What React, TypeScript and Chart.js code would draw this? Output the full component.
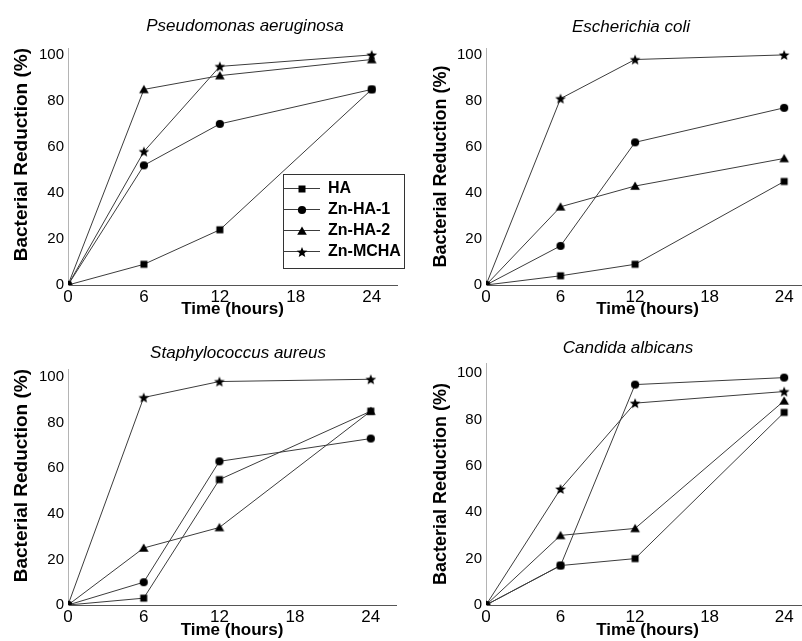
import React, { useEffect, useRef } from 'react';
import { Chart, registerables } from 'chart.js';

Chart.register(...registerables);

const FONT = '"Liberation Sans", Arial, Helvetica, sans-serif';

// ---------- data ----------
const timeHours = [0, 6, 12, 24];
const xTickValues = [0, 6, 12, 18, 24];
const yTickValues = [0, 20, 40, 60, 80, 100];
const seriesNames = ['HA', 'Zn-HA-1', 'Zn-HA-2', 'Zn-MCHA'];
const markerShapes = ['square', 'circle', 'triangle', 'star'];
const panelTitles = ['Pseudomonas aeruginosa', 'Escherichia coli', 'Staphylococcus aureus', 'Candida albicans'];
const xAxisTitle = 'Time (hours)';
const yAxisTitle = 'Bacterial Reduction (%)';

// Pseudomonas aeruginosa
const paHA = [0, 9, 24, 85];
const paZnHA1 = [0, 52, 70, 85];
const paZnHA2 = [0, 85, 91, 98];
const paZnMCHA = [0, 58, 95, 100];

// Escherichia coli
const ecHA = [0, 4, 9, 45];
const ecZnHA1 = [0, 17, 62, 77];
const ecZnHA2 = [0, 34, 43, 55];
const ecZnMCHA = [0, 81, 98, 100];

// Staphylococcus aureus
const saHA = [0, 3, 55, 85];
const saZnHA1 = [0, 10, 63, 73];
const saZnHA2 = [0, 25, 34, 85];
const saZnMCHA = [0, 91, 98, 99];

// Candida albicans
const caHA = [0, 17, 20, 83];
const caZnHA1 = [0, 17, 95, 98];
const caZnHA2 = [0, 30, 33, 88];
const caZnMCHA = [0, 50, 87, 92];

const panelSeries = [
  [paHA, paZnHA1, paZnHA2, paZnMCHA],
  [ecHA, ecZnHA1, ecZnHA2, ecZnMCHA],
  [saHA, saZnHA1, saZnHA2, saZnMCHA],
  [caHA, caZnHA1, caZnHA2, caZnMCHA],
];

// ---------- layout (styles / positions) ----------
type PanelLayout = {
  left: number; top: number; w: number; h: number;
  chartLeft: number; chartRight: number; chartTop: number; chartBottom: number;
  yMax: number; yTitleAlign: 'start' | 'center' | 'end'; yTitleSize: number; yTitleX: number;
  titleX: number; titleBaseline: number; legend: boolean;
};

const layouts: PanelLayout[] = [
  { left: 0, top: 0, w: 406, h: 320, chartLeft: 68, chartRight: 397, chartTop: 48, chartBottom: 285, yMax: 103,
    yTitleAlign: 'end', yTitleSize: 19, yTitleX: 21.7, titleX: 245, titleBaseline: 30.7, legend: true },
  { left: 401, top: 0, w: 413, h: 320, chartLeft: 85, chartRight: 413, chartTop: 48, chartBottom: 285, yMax: 103,
    yTitleAlign: 'center', yTitleSize: 18, yTitleX: 40, titleX: 230, titleBaseline: 31.7, legend: false },
  { left: 0, top: 320, w: 401, h: 321, chartLeft: 68, chartRight: 397, chartTop: 49, chartBottom: 285, yMax: 103.5,
    yTitleAlign: 'end', yTitleSize: 19, yTitleX: 21.7, titleX: 238, titleBaseline: 38.3, legend: false },
  { left: 401, top: 320, w: 413, h: 321, chartLeft: 85, chartRight: 413, chartTop: 43, chartBottom: 285, yMax: 104.3,
    yTitleAlign: 'center', yTitleSize: 18, yTitleX: 40, titleX: 227, titleBaseline: 33.3, legend: false },
];

const LINE_COLOR = '#3c3c3c';

function makeMarker(shape: string): HTMLCanvasElement {
  const size = 14;
  const c = document.createElement('canvas');
  c.width = size;
  c.height = size;
  const g = c.getContext('2d')!;
  g.fillStyle = '#000';
  const m = size / 2;
  g.beginPath();
  if (shape === 'square') {
    g.rect(m - 3.5, m - 3.5, 7, 7);
  } else if (shape === 'circle') {
    g.arc(m, m, 4.1, 0, Math.PI * 2);
  } else if (shape === 'triangle') {
    g.moveTo(m, m - 4.5);
    g.lineTo(m + 4.8, m + 3.8);
    g.lineTo(m - 4.8, m + 3.8);
    g.closePath();
  } else {
    for (let i = 0; i < 10; i++) {
      const r = i % 2 ? 2.4 : 5.6;
      const a = -Math.PI / 2 + (i * Math.PI) / 5;
      const px = m + r * Math.cos(a);
      const py = m + 0.5 + r * Math.sin(a);
      if (i === 0) g.moveTo(px, py); else g.lineTo(px, py);
    }
    g.closePath();
  }
  g.fill();
  return c;
}

function Panel({ index }: { index: number }) {
  const ref = useRef<HTMLCanvasElement | null>(null);
  const L = layouts[index];

  useEffect(() => {
    if (!ref.current) return;
    const markers = markerShapes.map(makeMarker);
    const series = panelSeries[index];

    const titlePlugin = {
      id: 'panelTitle',
      afterDraw(chart: any) {
        const ctx = chart.ctx;
        ctx.save();
        ctx.font = `italic 17px ${FONT}`;
        ctx.fillStyle = '#000';
        ctx.textAlign = 'center';
        ctx.textBaseline = 'alphabetic';
        ctx.fillText(panelTitles[index], L.titleX, L.titleBaseline);
        ctx.restore();
      },
    };

    const legendPlugin = {
      id: 'panelLegend',
      afterDraw(chart: any) {
        if (!L.legend) return;
        const ctx = chart.ctx;
        const bx = 283, by = 174, bw = 121, bh = 94;
        const firstRow = 188, rowStep = 21, sampleW = 37, textX = 328;
        ctx.save();
        ctx.fillStyle = '#fff';
        ctx.fillRect(bx, by, bw, bh);
        ctx.strokeStyle = '#333';
        ctx.lineWidth = 1;
        ctx.strokeRect(bx + 0.5, by + 0.5, bw, bh);
        chart.data.datasets.forEach((ds: any, i: number) => {
          const cy = firstRow + i * rowStep;
          ctx.strokeStyle = LINE_COLOR;
          ctx.lineWidth = 1;
          ctx.beginPath();
          ctx.moveTo(bx, cy + 0.5);
          ctx.lineTo(bx + sampleW, cy + 0.5);
          ctx.stroke();
          const img = ds.pointStyle as HTMLCanvasElement;
          ctx.drawImage(img, Math.round(bx + sampleW / 2 - img.width / 2), Math.round(cy - img.height / 2 + 0.5));
          ctx.fillStyle = '#000';
          ctx.font = `bold 16px ${FONT}`;
          ctx.textAlign = 'left';
          ctx.textBaseline = 'middle';
          ctx.fillText(ds.label, textX, cy + 1);
        });
        ctx.restore();
      },
    };

    const chart = new Chart(ref.current, {
      type: 'line',
      data: {
        datasets: seriesNames.map((name, k) => ({
          label: name,
          data: timeHours.map((t, i) => ({ x: t, y: series[k][i] })),
          borderColor: LINE_COLOR,
          borderWidth: 1,
          pointStyle: markers[k] as any,
          pointRadius: 4,
          pointBackgroundColor: '#000',
          pointBorderColor: '#000',
          fill: false,
          tension: 0,
          clip: 0 as any,
        })),
      },
      options: {
        responsive: false,
        animation: false,
        events: [],
        layout: {
          padding: { left: 0, top: L.chartTop, right: L.w - L.chartRight, bottom: 0 },
        },
        plugins: {
          legend: { display: false },
          title: { display: false },
          tooltip: { enabled: false },
        },
        scales: {
          x: {
            type: 'linear',
            min: 0,
            max: 26,
            afterBuildTicks: (ax: any) => {
              ax.ticks = xTickValues.map((v) => ({ value: v }));
            },
            afterFit: (s: any) => {
              s.height = L.h - L.chartBottom;
            },
            grid: { display: false, drawTicks: false },
            border: { display: true, color: '#555', width: 1 },
            ticks: {
              font: { family: FONT, size: 17 },
              color: '#000',
              padding: 2,
              maxRotation: 0,
              autoSkip: false,
            },
            title: {
              display: true,
              text: xAxisTitle,
              color: '#000',
              font: { family: FONT, size: 17, weight: 'bold' },
              padding: { top: 0, bottom: 0 },
            },
          },
          y: {
            type: 'linear',
            min: 0,
            max: L.yMax,
            afterBuildTicks: (ax: any) => {
              ax.ticks = yTickValues.map((v) => ({ value: v }));
            },
            afterFit: (s: any) => {
              s.width = L.chartLeft;
            },
            grid: { display: false, drawTicks: false },
            border: { display: true, color: '#b4b4b4', width: 1 },
            ticks: {
              font: { family: FONT, size: 15 },
              color: '#000',
              padding: 4,
            },
            title: {
              display: true,
              text: yAxisTitle,
              align: L.yTitleAlign,
              color: '#000',
              font: { family: FONT, size: L.yTitleSize, weight: 'bold' },
              padding: { top: L.yTitleX - (L.yTitleSize * 1.2) / 2, bottom: 0 },
            },
          },
        },
      },
      plugins: [titlePlugin, legendPlugin],
    } as any);

    return () => chart.destroy();
  }, [index]);

  return (
    <canvas
      ref={ref}
      width={L.w}
      height={L.h}
      style={{ position: 'absolute', left: L.left, top: L.top, width: L.w, height: L.h }}
    />
  );
}

export default function App() {
  return (
    <div
      style={{
        position: 'absolute',
        left: 0,
        top: 0,
        width: 802,
        height: 641,
        overflow: 'hidden',
        background: '#fff',
      }}
    >
      {[0, 1, 2, 3].map((i) => (
        <Panel key={i} index={i} />
      ))}
    </div>
  );
}
